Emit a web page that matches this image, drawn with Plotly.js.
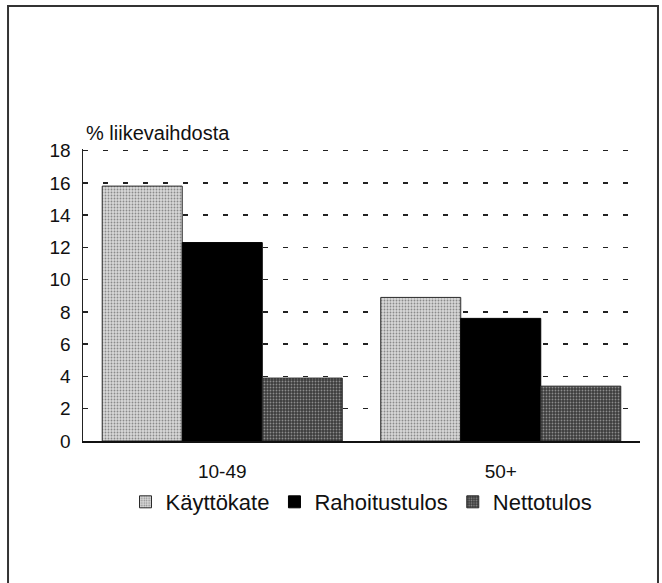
<!DOCTYPE html>
<html>
<head>
<meta charset="utf-8">
<script src="https://cdn.plot.ly/plotly-3.0.1.min.js"></script>
<style>
html,body{margin:0;padding:0;background:#fff;}
#chart{width:662px;height:583px;}
</style>
</head>
<body>
<div id="chart"></div>
<script>
var categories = ["10-49", "50+"];
var seriesNames = ["Käyttökate", "Rahoitustulos", "Nettotulos"];
var kayttokate = [15.8, 8.9];
var rahoitustulos = [12.3, 7.6];
var nettotulos = [3.9, 3.4];
var yTicks = [0, 2, 4, 6, 8, 10, 12, 14, 16, 18];
var yTitle = "% liikevaihdosta";

var FONT = "Liberation Sans, Arial, Helvetica, sans-serif";

var traces = [
  {
    type: "bar", name: seriesNames[0], x: categories, y: kayttokate,
    marker: {
      color: "#cfcfcf",
      line: {color: "#2a2a2a", width: 1},
      pattern: {shape: ".", bgcolor: "#d8d8d8", fgcolor: "#8a8a8a", size: 3, solidity: 0.3}
    },
    hoverinfo: "y"
  },
  {
    type: "bar", name: seriesNames[1], x: categories, y: rahoitustulos,
    marker: {color: "#000000", line: {color: "#000000", width: 1}},
    hoverinfo: "y"
  },
  {
    type: "bar", name: seriesNames[2], x: categories, y: nettotulos,
    marker: {
      color: "#444444",
      line: {color: "#2a2a2a", width: 1},
      pattern: {shape: ".", bgcolor: "#3c3c3c", fgcolor: "#8c8c8c", size: 3, solidity: 0.3}
    },
    hoverinfo: "y"
  }
];

var layout = {
  width: 662, height: 583,
  margin: {l: 83, r: 22, t: 149, b: 142, pad: 0},
  paper_bgcolor: "#ffffff",
  plot_bgcolor: "#ffffff",
  font: {family: FONT, color: "#111111", size: 19},
  barmode: "group",
  bargap: 0.138,
  bargroupgap: 0,
  showlegend: true,
  legend: {
    orientation: "h",
    x: 0.5, xanchor: "center",
    y: -0.209, yanchor: "middle",
    font: {family: FONT, size: 22, color: "#111111"},
    bgcolor: "rgba(0,0,0,0)",
    traceorder: "normal"
  },
  xaxis: {
    type: "category",
    showline: true, linecolor: "#111111", linewidth: 2,
    ticks: "", showgrid: false, zeroline: false,
    tickfont: {family: FONT, size: 19, color: "#111111"},
    ticklabelstandoff: 12,
    fixedrange: true
  },
  yaxis: {
    range: [0, 18.1],
    tickvals: yTicks,
    ticktext: yTicks.map(String),
    showline: true, linecolor: "#222222", linewidth: 1.5,
    ticks: "inside", ticklen: 4, tickwidth: 1.5, tickcolor: "#222222",
    showgrid: true, gridcolor: "#222222", gridwidth: 1.5, griddash: "5px,15px",
    zeroline: false,
    tickfont: {family: FONT, size: 19, color: "#111111"},
    ticklabelstandoff: 7,
    fixedrange: true
  },
  annotations: [
    {
      text: yTitle, xref: "paper", yref: "paper",
      x: 0.002, y: 1.055, xanchor: "left", yanchor: "middle",
      showarrow: false,
      font: {family: FONT, size: 20, color: "#111111"}
    }
  ],
  shapes: [
    {
      type: "rect", xref: "paper", yref: "paper",
      x0: -0.1346, x1: 1.0323, y0: -0.52, y1: 1.49,
      line: {color: "#333333", width: 2},
      fillcolor: "rgba(0,0,0,0)",
      layer: "below"
    }
  ]
};

Plotly.newPlot("chart", traces, layout, {displayModeBar: false, staticPlot: true});
</script>
</body>
</html>
